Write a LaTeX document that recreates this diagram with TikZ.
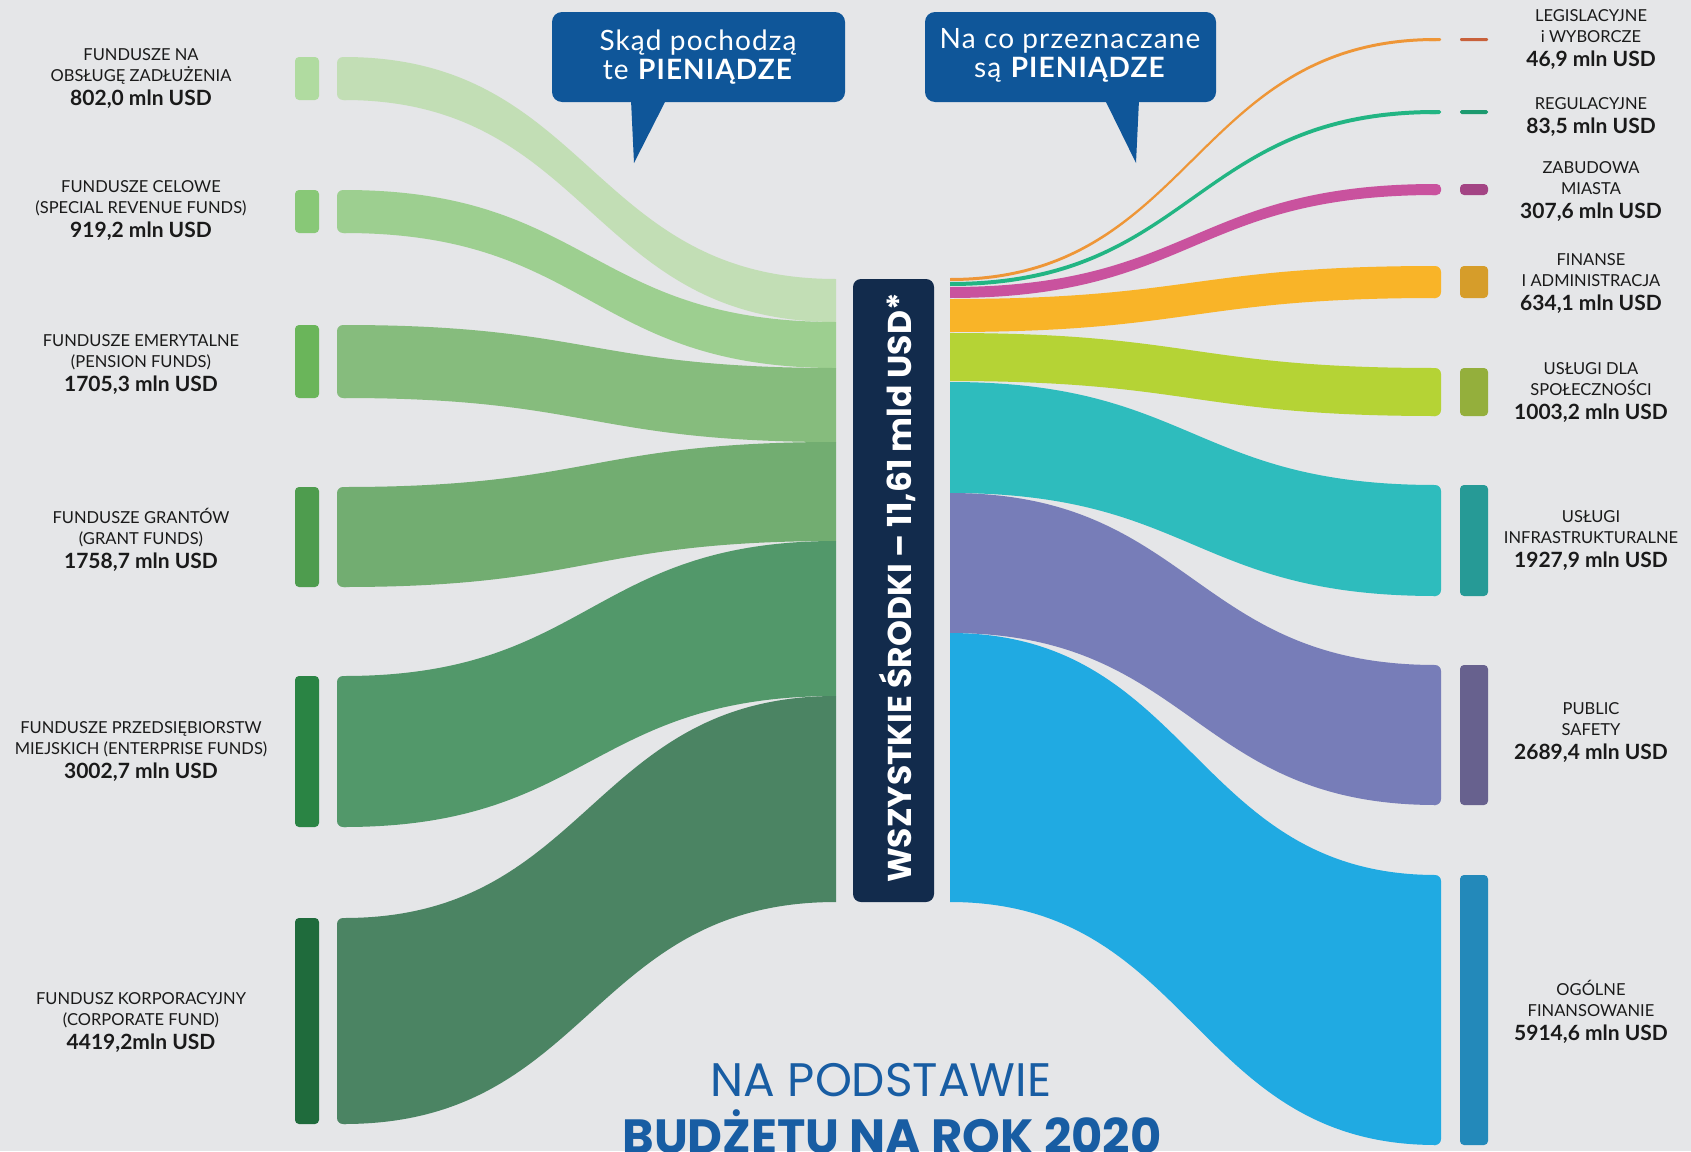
\documentclass[tikz,border=0pt]{standalone}
\usepackage{fontspec}
\setmainfont{Lato}
\newfontfamily\headfont{Poppins}
\newfontfamily\bubblefont{Lato}[LetterSpace=4.0]

\definecolor{bggray}{HTML}{E5E6E8}
\definecolor{labeltext}{HTML}{1A1A1A}
\definecolor{bubbleblue}{HTML}{0F5699}
\definecolor{totalnavy}{HTML}{122B4C}
\definecolor{titleblue}{HTML}{185DA3}
% source flows and bars
\definecolor{lf1}{HTML}{C2DEB5}\definecolor{lb1}{HTML}{B0DBA0}
\definecolor{lf2}{HTML}{9DCF90}\definecolor{lb2}{HTML}{88C877}
\definecolor{lf3}{HTML}{86BC7D}\definecolor{lb3}{HTML}{6AB55A}
\definecolor{lf4}{HTML}{72AD71}\definecolor{lb4}{HTML}{4E9C4E}
\definecolor{lf5}{HTML}{52986A}\definecolor{lb5}{HTML}{2A8444}
\definecolor{lf6}{HTML}{4B8463}\definecolor{lb6}{HTML}{1F6B3C}
% spending flows and bars
\definecolor{rf1}{HTML}{EE9637}\definecolor{rb1}{HTML}{C8613B}
\definecolor{rf2}{HTML}{22B583}\definecolor{rb2}{HTML}{1C9A6F}
\definecolor{rf3}{HTML}{C9529E}\definecolor{rb3}{HTML}{A34484}
\definecolor{rf4}{HTML}{F9B428}\definecolor{rb4}{HTML}{D69D2A}
\definecolor{rf5}{HTML}{B5D335}\definecolor{rb5}{HTML}{94AF3C}
\definecolor{rf6}{HTML}{2EBCBD}\definecolor{rb6}{HTML}{269A96}
\definecolor{rf7}{HTML}{777DB8}\definecolor{rb7}{HTML}{67618E}
\definecolor{rf8}{HTML}{20AAE2}\definecolor{rb8}{HTML}{2389BA}

\newcommand{\flowband}[7]{%
  \pgfmathsetmacro{\xmid}{(#2+#5)/2}%
  \fill[#1] (#2,#3) .. controls (\xmid,#3) and (\xmid,#6) .. (#5,#6)
    -- (#5,#7) .. controls (\xmid,#7) and (\xmid,#4) .. (#2,#4) -- cycle;}
\newcommand{\amount}[1]{{\fontsize{21}{24}\selectfont\bfseries #1}}

\tikzset{
  fundlabel/.style={align=center, text=labeltext, font=\fontsize{16.5}{21}\selectfont, inner sep=0pt},
  bubble/.style={fill=bubbleblue, rounded corners=10pt},
  bubbletext/.style={align=center, text=white, font=\bubblefont\fontsize{28}{29}\selectfont},
  totalbox/.style={fill=totalnavy, rounded corners=8pt, minimum width=81pt, minimum height=623pt, inner sep=0pt},
  totaltext/.style={rotate=90, text=white, font=\headfont\bfseries\fontsize{33}{38}\selectfont},
}

\begin{document}
\begin{tikzpicture}[x=1pt, y=-1pt]
  \useasboundingbox (0,0) rectangle (1691,1151);
  \fill[bggray] (0,0) rectangle (1691,1151);

  % sources -> total
  \foreach \yt/\yb/\ct/\cb/\i in {57/100/279/322/1, 190/233/322/368/2, 325/398/368/442/3,
      487/587/442/541/4, 676/827/541/696/5, 918/1124/696/902/6}{
    \flowband{lf\i}{344}{\yt}{\yb}{836}{\ct}{\cb}
    \fill[lf\i, rounded corners=6pt] (337,\yt) rectangle (352,\yb);
    \fill[lb\i, rounded corners=4pt] (295,\yt) rectangle (319,\yb);
  }

  % total -> spending
  \foreach \ct/\cb/\et/\eb/\i in {278/281/38/41/1, 282/286/110/114/2, 287/298/184/195/3,
      299/332/266/298/4, 333/381/368/416/5, 382/493/485/596/6, 493/633/665/805/7, 633/902/875/1145/8}{
    \pgfmathsetmacro{\rr}{min(6,(\eb-\et)/2.5)}
    \pgfmathsetmacro{\rb}{min(4,(\eb-\et)/2.5)}
    \flowband{rf\i}{950}{\ct}{\cb}{1436}{\et}{\eb}
    \fill[rf\i, rounded corners=\rr pt] (1428,\et) rectangle (1441,\eb);
    \fill[rb\i, rounded corners=\rb pt] (1460,\et) rectangle (1488,\eb);
  }

  % total bar
  \node[totalbox] (total) at (893.5,590.5) {};
  \node[totaltext] (totaltxt) at (897,588) {WSZYSTKIE ŚRODKI – 11,61 mld USD*};

  % callouts
  \fill[bubble] (552,12) rectangle (845,102);
  \fill[bubbleblue] (631,100) -- (666,100) -- (634,163) -- cycle;
  \node[bubbletext] (fromq) at (698,57) {Skąd pochodzą\\te \textbf{PIENIĄDZE}};
  \fill[bubble] (925,12) rectangle (1216,102);
  \fill[bubbleblue] (1105,100) -- (1139,100) -- (1136,163) -- cycle;
  \node[bubbletext] (toq) at (1070,55) {Na co przeznaczane\\są \textbf{PIENIĄDZE}};

  % source labels
  \node[fundlabel] (src1) at (141,79) {FUNDUSZE NA\\OBSŁUGĘ ZADŁUŻENIA\\[3pt]\amount{802,0 mln USD}};
  \node[fundlabel] (src2) at (141,211) {FUNDUSZE CELOWE\\(SPECIAL REVENUE FUNDS)\\[3pt]\amount{919,2 mln USD}};
  \node[fundlabel] (src3) at (141,365) {FUNDUSZE EMERYTALNE\\(PENSION FUNDS)\\[3pt]\amount{1705,3 mln USD}};
  \node[fundlabel] (src4) at (141,540) {FUNDUSZE GRANTÓW\\(GRANT FUNDS)\\[3pt]\amount{1758,7 mln USD}};
  \node[fundlabel] (src5) at (141,752) {FUNDUSZE PRZEDSIĘBIORSTW\\MIEJSKICH (ENTERPRISE FUNDS)\\[3pt]\amount{3002,7 mln USD}};
  \node[fundlabel] (src6) at (141,1022) {FUNDUSZ KORPORACYJNY\\(CORPORATE FUND)\\[3pt]\amount{4419,2mln USD}};

  % spending labels
  \node[fundlabel] (use1) at (1591,40) {LEGISLACYJNE\\i WYBORCZE\\[3pt]\amount{46,9 mln USD}};
  \node[fundlabel] (use2) at (1591,117) {REGULACYJNE\\[3pt]\amount{83,5 mln USD}};
  \node[fundlabel] (use3) at (1591,192) {ZABUDOWA\\MIASTA\\[3pt]\amount{307,6 mln USD}};
  \node[fundlabel] (use4) at (1591,284) {FINANSE\\I ADMINISTRACJA\\[3pt]\amount{634,1 mln USD}};
  \node[fundlabel] (use5) at (1591,393) {USŁUGI DLA\\SPOŁECZNOŚCI\\[3pt]\amount{1003,2 mln USD}};
  \node[fundlabel] (use6) at (1591,541) {USŁUGI\\INFRASTRUKTURALNE\\[3pt]\amount{1927,9 mln USD}};
  \node[fundlabel] (use7) at (1591,733) {PUBLIC\\SAFETY\\[3pt]\amount{2689,4 mln USD}};
  \node[fundlabel] (use8) at (1591,1012) {OGÓLNE\\FINANSOWANIE\\[3pt]\amount{5914,6 mln USD}};

  % title
  \node[font=\headfont\fontsize{47}{52}\selectfont, text=titleblue] (basis) at (881,1080) {NA PODSTAWIE};
  \node[font=\headfont\bfseries\fontsize{48}{54}\selectfont, text=titleblue, anchor=base] (budget) at (892,1153) {BUDŻETU NA ROK 2020};
\end{tikzpicture}
\end{document}
